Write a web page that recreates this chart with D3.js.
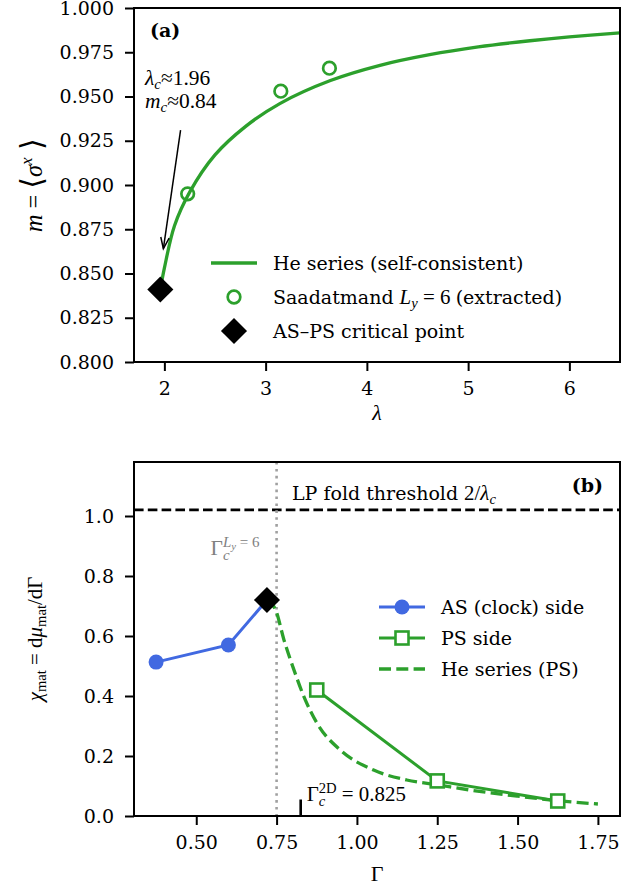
<!DOCTYPE html>
<html>
<head>
<meta charset="utf-8">
<script src="https://cdn.jsdelivr.net/npm/d3@7"></script>
<style>
  body { margin: 0; background: #fff; }
  svg { display: block; }
</style>
</head>
<body>
<svg id="fig" width="624" height="888"></svg>
<script>
// ---- panel (a): magnetisation vs lambda ----
const heLambda = [1.96, 2.0, 2.1, 2.25, 2.5, 2.8, 3.14, 3.64, 4.13, 4.62, 5.1, 5.61, 6.0, 6.5];
const heM      = [0.841, 0.853, 0.877, 0.896, 0.917, 0.933, 0.946, 0.959, 0.9676, 0.9736, 0.978, 0.9815, 0.9837, 0.986];
const saLambda = [2.23, 3.15, 3.63];
const saM      = [0.895, 0.953, 0.966];
const lambdaC = 1.96, mC = 0.841;
const arrowTail = [2.16, 0.931], arrowTip = [1.99, 0.864];
const aXTicks = [2, 3, 4, 5, 6];
const aYTicks = [0.800, 0.825, 0.850, 0.875, 0.900, 0.925, 0.950, 0.975, 1.000];

// ---- panel (b): susceptibility vs Gamma ----
const asGamma = [0.375, 0.60, 0.72];
const asChi   = [0.513, 0.570, 0.72];
const psGamma = [0.875, 1.25, 1.625];
const psChi   = [0.42, 0.117, 0.05];
const hePsGamma = [0.72, 0.747, 0.773, 0.804, 0.835, 0.876, 0.948, 1.052, 1.155, 1.25, 1.375, 1.5, 1.625, 1.75];
const hePsChi   = [0.72, 0.687, 0.587, 0.487, 0.398, 0.309, 0.22, 0.153, 0.12, 0.104, 0.083, 0.066, 0.051, 0.04];
const gammaCLy = 0.75;
const gammaC2D = 0.825, gammaC2DMark = 0.055;
const foldThreshold = 2 / lambdaC;
const bXTicks = [0.50, 0.75, 1.00, 1.25, 1.50, 1.75];
const bYTicks = [0.0, 0.2, 0.4, 0.6, 0.8, 1.0];

const TEXT = "'DejaVu Serif', serif";
const MATH = "'Liberation Serif', 'DejaVu Serif', serif";
const FS = 19;
const GREEN = "#2ca02c", BLUE = "#4169e1";

const svg = d3.select("#fig");
const W = 624;
const margin = { left: 134, right: 4 };

// text with math pieces; each part: [string, {m, it, off, s, back}]
function rich(sel, parts, base) {
  let shift = 0;
  let prev = null;
  parts.forEach(([t, o = {}]) => {
    const s = (o.s || 1) * (o.m ? 1.1 : 1);
    const off = (o.off || 0) * base;
    const ts = sel.append("tspan")
      .attr("dy", off - shift)
      .style("font-family", o.m ? MATH : TEXT)
      .style("font-style", o.it ? "italic" : "normal")
      .style("font-weight", o.thin ? 300 : null)
      .style("font-size", (base * s) + "px")
      .text(t);
    if (o.back && prev) ts.attr("dx", -prev.node().getComputedTextLength());
    shift = off;
    prev = ts;
  });
  return sel;
}

function frame(g, w, h) {
  g.append("rect").attr("width", w).attr("height", h)
    .attr("fill", "none").attr("stroke", "#000").attr("stroke-width", 2);
}

function styleAxis(g) {
  g.select(".domain").remove();
  g.selectAll(".tick line").attr("stroke", "#000").attr("stroke-width", 2);
  g.selectAll(".tick text").style("font-family", TEXT).style("font-size", FS + "px").attr("fill", "#000");
}

// ======== panel (a) ========
{
  const top = 8, bottom = 362;
  const w = W - margin.left - margin.right, h = bottom - top;
  const g = svg.append("g").attr("transform", `translate(${margin.left},${top})`);
  const x = d3.scaleLinear().domain([1.7, 6.5]).range([0, w]);
  const y = d3.scaleLinear().domain([0.8, 1.0]).range([h, 0]);

  g.append("clipPath").attr("id", "clipA").append("rect").attr("width", w).attr("height", h);

  g.append("g").attr("transform", `translate(0,${h})`)
    .call(d3.axisBottom(x).tickValues(aXTicks).tickFormat(d3.format("d")).tickSize(9).tickPadding(11).tickSizeOuter(0))
    .call(styleAxis);
  g.append("g")
    .call(d3.axisLeft(y).tickValues(aYTicks).tickFormat(d3.format(".3f")).tickSize(9).tickPadding(11).tickSizeOuter(0))
    .call(styleAxis);

  const line = d3.line().x(d => x(d[0])).y(d => y(d[1])).curve(d3.curveCatmullRom.alpha(0.5));
  g.append("path").attr("clip-path", "url(#clipA)")
    .attr("d", line(d3.zip(heLambda, heM)))
    .attr("fill", "none").attr("stroke", GREEN).attr("stroke-width", 3.3);

  g.selectAll("circle.sa").data(d3.zip(saLambda, saM)).join("circle")
    .attr("class", "sa")
    .attr("cx", d => x(d[0])).attr("cy", d => y(d[1])).attr("r", 6.3)
    .attr("fill", "none").attr("stroke", GREEN).attr("stroke-width", 2.7);

  const diamond = d3.symbol().type(d3.symbolSquare).size(340);
  g.append("path").attr("d", diamond())
    .attr("transform", `translate(${x(lambdaC)},${y(mC)}) rotate(45)`)
    .attr("fill", "#000");

  // annotation arrow
  const tx = x(arrowTail[0]), ty = y(arrowTail[1]);
  const hx = x(arrowTip[0]), hy = y(arrowTip[1]);
  g.append("line").attr("x1", tx).attr("y1", ty).attr("x2", hx).attr("y2", hy)
    .attr("stroke", "#000").attr("stroke-width", 1.5);
  const ang = Math.atan2(hy - ty, hx - tx);
  const hl = 12, hw = 0.36;
  g.append("path")
    .attr("d", `M${hx - hl * Math.cos(ang - hw)},${hy - hl * Math.sin(ang - hw)} L${hx},${hy} L${hx - hl * Math.cos(ang + hw)},${hy - hl * Math.sin(ang + hw)}`)
    .attr("fill", "none").attr("stroke", "#000").attr("stroke-width", 1.5);

  rich(g.append("text").attr("x", 11).attr("y", 77), [
    ["λ", { m: 1, it: 1 }], ["c", { m: 1, it: 1, off: 0.2, s: 0.7 }], ["≈1.96", { m: 1 }]
  ], 19.5);
  rich(g.append("text").attr("x", 11).attr("y", 100), [
    ["m", { m: 1, it: 1 }], ["c", { m: 1, it: 1, off: 0.2, s: 0.7 }], ["≈0.84", { m: 1 }]
  ], 19.5);

  g.append("text").attr("x", 16).attr("y", 29)
    .style("font-family", TEXT).style("font-weight", "bold").style("font-size", FS + "px").text("(a)");

  // legend
  const lg = g.append("g").attr("transform", `translate(${211 - margin.left},${263 - top})`);
  const rows = 34;
  lg.append("line").attr("x1", 0).attr("x2", 46).attr("stroke", GREEN).attr("stroke-width", 3.3);
  lg.append("circle").attr("cx", 23).attr("cy", rows).attr("r", 6.3)
    .attr("fill", "none").attr("stroke", GREEN).attr("stroke-width", 2.7);
  lg.append("path").attr("d", diamond()).attr("transform", `translate(23,${rows * 2}) rotate(45)`).attr("fill", "#000");
  const ltx = 62;
  lg.append("text").attr("x", ltx).attr("y", 7).style("font-family", TEXT).style("font-size", FS + "px")
    .text("He series (self-consistent)");
  rich(lg.append("text").attr("x", ltx).attr("y", rows + 7), [
    ["Saadatmand ", {}], ["L", { m: 1, it: 1 }], ["y", { m: 1, it: 1, off: 0.22, s: 0.7 }],
    [" = 6 ", { m: 1 }], ["(extracted)", {}]
  ], FS);
  lg.append("text").attr("x", ltx).attr("y", rows * 2 + 7).style("font-family", TEXT).style("font-size", FS + "px")
    .text("AS–PS critical point");

  // axis labels
  svg.append("text").attr("x", margin.left + w / 2).attr("y", 420).attr("text-anchor", "middle")
    .style("font-family", MATH).style("font-style", "italic").style("font-size", "22px").text("λ");
  rich(svg.append("text").attr("transform", `translate(42,${top + h / 2}) rotate(-90)`).attr("text-anchor", "middle"), [
    ["m", { m: 1, it: 1 }], [" = ", { m: 1 }], ["⟨", { m: 1, s: 1.25, thin: 1 }], ["σ", { m: 1, it: 1 }],
    ["x", { m: 1, it: 1, off: -0.45, s: 0.7 }], [" ⟩", { m: 1, s: 1.25, thin: 1 }]
  ], 22);

  frame(g, w, h);
}

// ======== panel (b) ========
{
  const top = 462, bottom = 816;
  const w = W - margin.left - margin.right, h = bottom - top;
  const g = svg.append("g").attr("transform", `translate(${margin.left},${top})`);
  const ext = d3.extent(asGamma.concat(psGamma, hePsGamma));
  const pad = (ext[1] - ext[0]) * 0.05;
  const x = d3.scaleLinear().domain([ext[0] - pad, ext[1] + pad]).range([0, w]);
  const y = d3.scaleLinear().domain([0, 1.18]).range([h, 0]);

  g.append("g").attr("transform", `translate(0,${h})`)
    .call(d3.axisBottom(x).tickValues(bXTicks).tickFormat(d3.format(".2f")).tickSize(9).tickPadding(11).tickSizeOuter(0))
    .call(styleAxis);
  g.append("g")
    .call(d3.axisLeft(y).tickValues(bYTicks).tickFormat(d3.format(".1f")).tickSize(9).tickPadding(11).tickSizeOuter(0))
    .call(styleAxis);

  // threshold and critical guides
  g.append("line").attr("x1", 0).attr("x2", w).attr("y1", y(foldThreshold)).attr("y2", y(foldThreshold))
    .attr("stroke", "#000").attr("stroke-width", 2.6).attr("stroke-dasharray", "9.6,4.2");
  g.append("line").attr("x1", x(gammaCLy)).attr("x2", x(gammaCLy)).attr("y1", 0).attr("y2", h)
    .attr("stroke", "#a0a0a0").attr("stroke-width", 2.6).attr("stroke-dasharray", "2.6,4.3");
  g.append("line").attr("x1", x(gammaC2D)).attr("x2", x(gammaC2D)).attr("y1", y(0)).attr("y2", y(gammaC2DMark))
    .attr("stroke", "#000").attr("stroke-width", 2.6);

  const line = d3.line().x(d => x(d[0])).y(d => y(d[1]));
  g.append("path").attr("d", line.curve(d3.curveMonotoneX)(d3.zip(hePsGamma, hePsChi)))
    .attr("fill", "none").attr("stroke", GREEN).attr("stroke-width", 3.3).attr("stroke-dasharray", "12,5.3");
  line.curve(d3.curveLinear);
  g.append("path").attr("d", line(d3.zip(asGamma, asChi)))
    .attr("fill", "none").attr("stroke", BLUE).attr("stroke-width", 3);
  g.selectAll("circle.as").data(d3.zip(asGamma, asChi)).join("circle")
    .attr("class", "as").attr("cx", d => x(d[0])).attr("cy", d => y(d[1])).attr("r", 7.5).attr("fill", BLUE);
  g.append("path").attr("d", line(d3.zip(psGamma, psChi)))
    .attr("fill", "none").attr("stroke", GREEN).attr("stroke-width", 3);
  const sq = 13;
  g.selectAll("rect.ps").data(d3.zip(psGamma, psChi)).join("rect")
    .attr("class", "ps").attr("x", d => x(d[0]) - sq / 2).attr("y", d => y(d[1]) - sq / 2)
    .attr("width", sq).attr("height", sq)
    .attr("fill", "#fff").attr("stroke", GREEN).attr("stroke-width", 2.6);

  const diamond = d3.symbol().type(d3.symbolSquare).size(340);
  g.append("path").attr("d", diamond())
    .attr("transform", `translate(${x(asGamma[2])},${y(asChi[2])}) rotate(45)`).attr("fill", "#000");

  // texts
  rich(g.append("text").attr("x", 158).attr("y", 38), [
    ["LP fold threshold ", {}], ["2/", { m: 1 }], ["λ", { m: 1, it: 1 }], ["c", { m: 1, it: 1, off: 0.22, s: 0.7 }]
  ], FS);
  g.append("text").attr("x", w - 17).attr("y", 30).attr("text-anchor", "end")
    .style("font-family", TEXT).style("font-weight", "bold").style("font-size", FS + "px").text("(b)");
  rich(g.append("text").attr("x", x(gammaCLy) - 66).attr("y", 93).attr("fill", "#808080"), [
    ["Γ", { m: 1 }], ["c", { m: 1, it: 1, off: 0.28, s: 0.7 }],
    ["L", { m: 1, it: 1, off: -0.42, s: 0.7, back: 1 }], ["y", { m: 1, it: 1, off: -0.28, s: 0.5 }],
    [" = 6", { m: 1, off: -0.42, s: 0.7 }]
  ], 19.5);
  rich(g.append("text").attr("x", x(gammaC2D) + 6).attr("y", y(0) - 15), [
    ["Γ", { m: 1 }], ["c", { m: 1, it: 1, off: 0.28, s: 0.7 }],
    ["2D", { m: 1, off: -0.42, s: 0.7, back: 1 }], [" = 0.825", { m: 1 }]
  ], 19);

  // legend
  const lg = g.append("g").attr("transform", `translate(${379 - margin.left},${607 - top})`);
  const rows = 31;
  lg.append("line").attr("x1", 0).attr("x2", 46).attr("stroke", BLUE).attr("stroke-width", 3);
  lg.append("circle").attr("cx", 23).attr("cy", 0).attr("r", 7.5).attr("fill", BLUE);
  lg.append("line").attr("x1", 0).attr("x2", 46).attr("y1", rows).attr("y2", rows).attr("stroke", GREEN).attr("stroke-width", 3);
  lg.append("rect").attr("x", 23 - sq / 2).attr("y", rows - sq / 2).attr("width", sq).attr("height", sq)
    .attr("fill", "#fff").attr("stroke", GREEN).attr("stroke-width", 2.6);
  lg.append("line").attr("x1", 0).attr("x2", 46).attr("y1", rows * 2).attr("y2", rows * 2)
    .attr("stroke", GREEN).attr("stroke-width", 3.3).attr("stroke-dasharray", "12,5.3");
  const names = ["AS (clock) side", "PS side", "He series (PS)"];
  lg.selectAll("text").data(names).join("text")
    .attr("x", 62).attr("y", (d, i) => i * rows + 7)
    .style("font-family", TEXT).style("font-size", FS + "px").text(d => d);

  // axis labels
  svg.append("text").attr("x", margin.left + w / 2).attr("y", 881).attr("text-anchor", "middle")
    .style("font-family", MATH).style("font-size", "22px").text("Γ");
  rich(svg.append("text").attr("transform", `translate(42,${top + h / 2}) rotate(-90)`).attr("text-anchor", "middle"), [
    ["χ", { m: 1, it: 1 }], ["mat", { m: 1, off: 0.22, s: 0.7 }], [" = d", { m: 1 }], ["μ", { m: 1, it: 1 }],
    ["mat", { m: 1, off: 0.22, s: 0.7 }], ["/dΓ", { m: 1 }]
  ], 19);

  frame(g, w, h);
}
</script>
</body>
</html>
